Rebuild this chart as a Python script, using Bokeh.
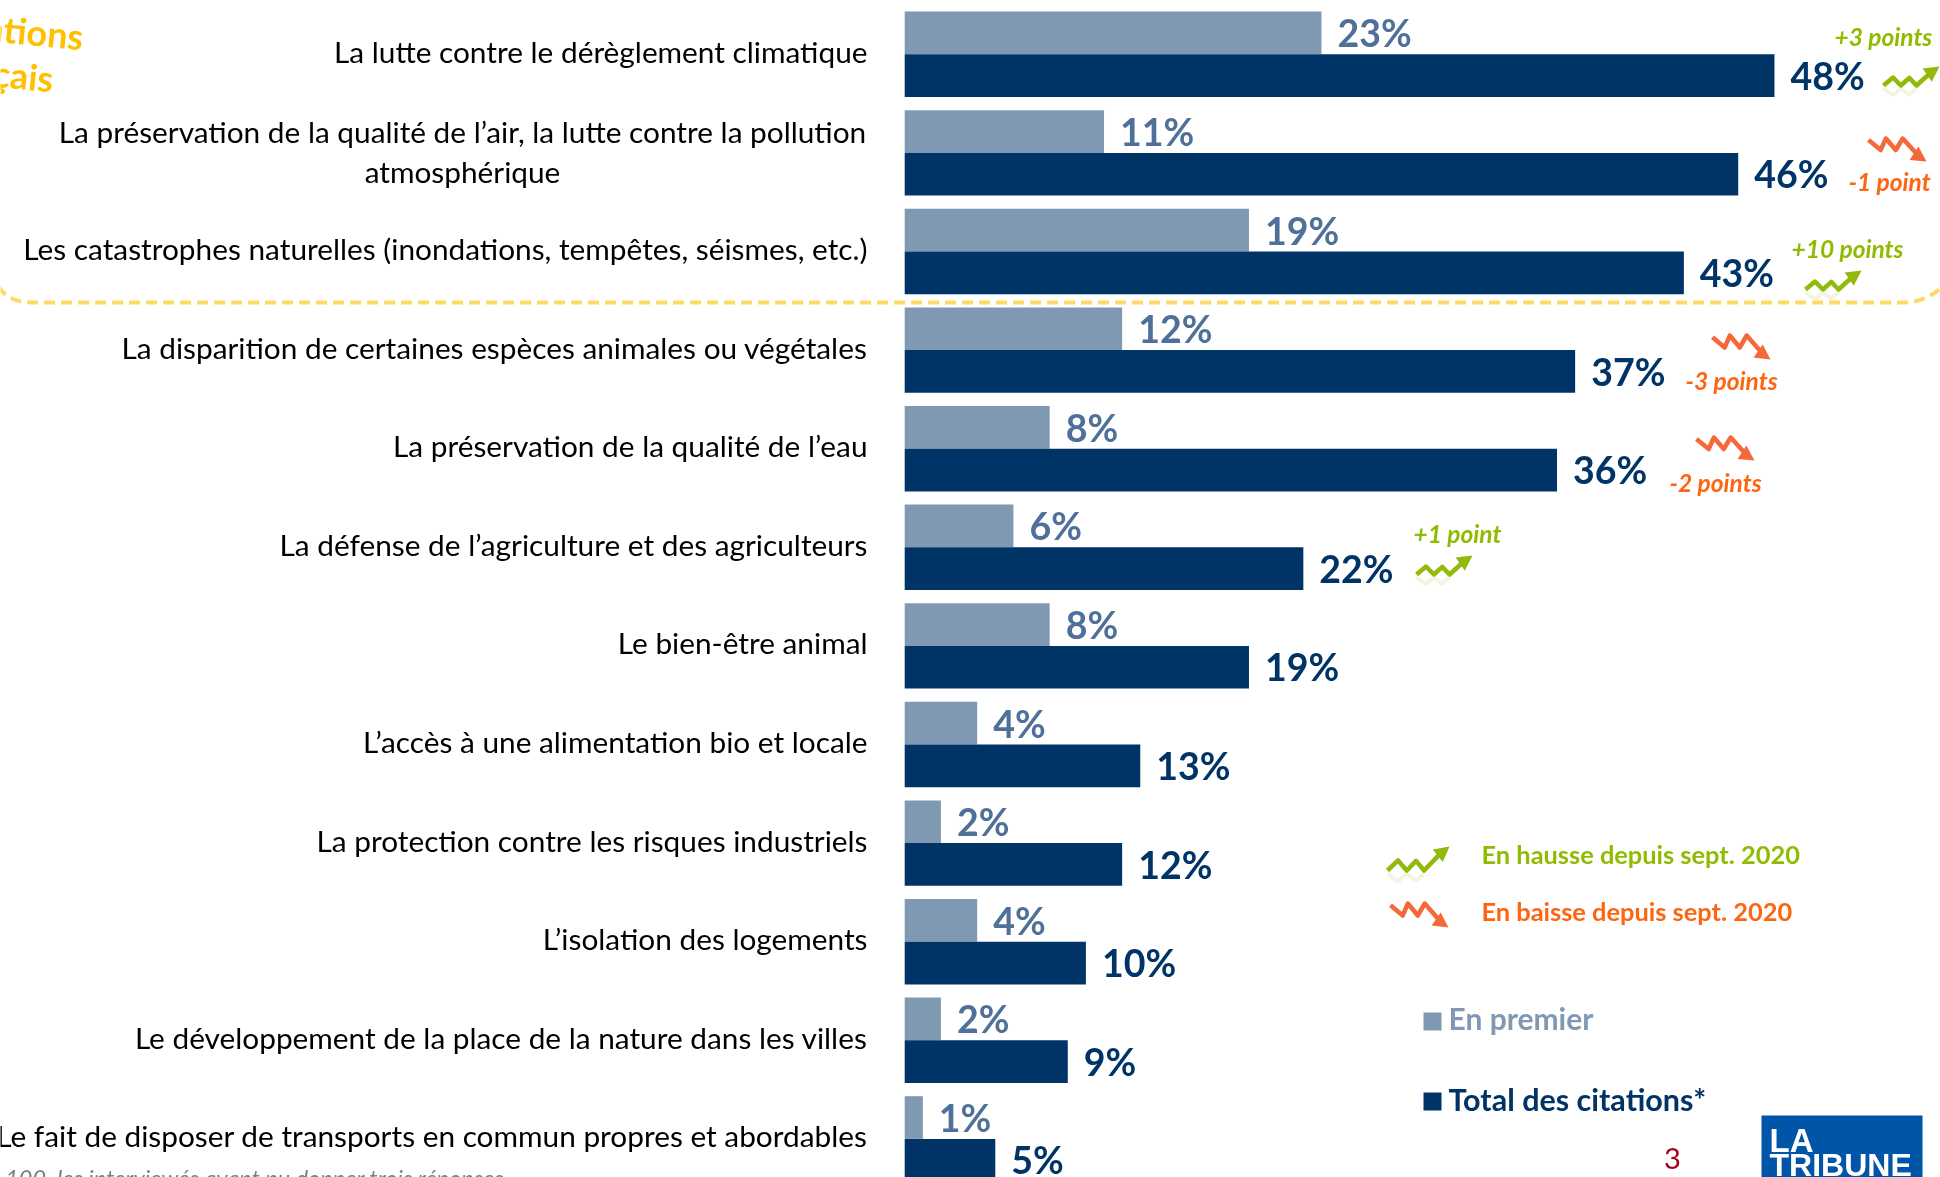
import numpy as np
from bokeh.plotting import figure
from bokeh.models import Range1d
from bokeh.core.properties import value
from bokeh.embed import file_html
from bokeh.resources import INLINE

categories = [
    "La lutte contre le dérèglement climatique",
    "La préservation de la qualité de l’air, la lutte contre la pollution\natmosphérique",
    "Les catastrophes naturelles (inondations, tempêtes, séismes, etc.)",
    "La disparition de certaines espèces animales ou végétales",
    "La préservation de la qualité de l’eau",
    "La défense de l’agriculture et des agriculteurs",
    "Le bien-être animal",
    "L’accès à une alimentation bio et locale",
    "La protection contre les risques industriels",
    "L’isolation des logements",
    "Le développement de la place de la nature dans les villes",
    "Le fait de disposer de transports en commun propres et abordables",
]
en_premier = [23, 11, 19, 12, 8, 6, 8, 4, 2, 4, 2, 1]
total_citations = [48, 46, 43, 37, 36, 22, 19, 13, 12, 10, 9, 5]
evolution_labels = ["+3 points", "-1 point", "+10 points", "-3 points", "-2 points", "+1 point"]

W, H = 1940, 1177
X0, PXU = 904.2, 18.12      # screen position of 0 %, pixels per %
Y0, PXR = 53.8, 98.6        # screen position of first row's middle, pixels per row
BAR = 42.7 / PXR

LIGHT, DARK = "#7F99B3", "#003366"
LIGHT_TXT = "#4E7099"
GREEN, ORANGE = "#8FBC00", "#FF6410"
ARROW_G, ARROW_O = "#93B90B", "#F4683A"
FONT = "Lato"

p = figure(width=W, height=H, output_backend="svg", toolbar_location=None,
           x_range=Range1d(-X0 / PXU, (W - X0) / PXU),
           y_range=Range1d((H - Y0) / PXR, -Y0 / PXR),
           min_border=0, outline_line_color=None, background_fill_color="white",
           border_fill_color="white")
p.styles = {"position": "fixed", "left": "0px", "top": "0px"}
p.axis.visible = False
p.grid.visible = False
p.extra_x_ranges = {"px": Range1d(0, W)}
p.extra_y_ranges = {"px": Range1d(H, 0)}
PX = dict(x_range_name="px", y_range_name="px")


def txt(x, y, s, size, color, align="left", style="normal", angle=0.0, font=FONT):
    p.text([x], [y], text=[s], text_font=value(font), text_font_size=f"{size}px",
           text_color=color, text_align=align, text_baseline="middle",
           text_font_style=style, angle=angle, **PX)


rows = np.arange(len(categories))
p.hbar(y=rows - BAR / 2, left=0, right=en_premier, height=BAR, color=LIGHT, line_color=None)
p.hbar(y=rows + BAR / 2, left=0, right=total_citations, height=BAR, color=DARK, line_color=None)

p.text(x=[v + 16 / PXU for v in en_premier], y=rows - 21.5 / PXR, text=[f"{v}%" for v in en_premier],
       text_font=value(FONT), text_font_size="37.5px", text_font_style="bold", text_color=LIGHT_TXT,
       text_baseline="middle")
p.text(x=[v + 16 / PXU for v in total_citations], y=rows + 21 / PXR,
       text=[f"{v}%" for v in total_citations],
       text_font=value(FONT), text_font_size="37.5px", text_font_style="bold", text_color=DARK,
       text_baseline="middle")

for i, c in enumerate(categories):
    yc = Y0 + PXR * i - 3
    if "\n" in c:
        a, b = c.split("\n")
        txt(462, yc - 18.5, a, 29.8, "#000000", "center")
        txt(462, yc + 21.5, b, 29.8, "#000000", "center")
    else:
        txt(867, yc, c, 29.8, "#000000", "right")

UP = np.array([(0, 0), (.17, .42), (.31, 0), (.46, .40), (.59, 0), (.84, .67), (1, 1)])
DOWN = np.array([(0, .93), (.21, .5), (.3, 1), (.47, .5), (.59, 1), (.88, .2), (1, 0)])


def arrow(x0, y0, x1, y1, up=True):
    col = ARROW_G if up else ARROW_O
    w, h = x1 - x0, abs(y1 - y0)
    if up:
        xs = x0 + UP[:, 0] * w
        ys = y0 - UP[:, 1] * h
        # soft reflection of the zigzag
        p.line(xs[:5], y0 + 3 + UP[:5, 1] * h * .8, line_color=col, line_width=4, line_alpha=.12, **PX)
    else:
        xs = x0 + DOWN[:, 0] * w
        ys = y0 + (1 - DOWN[:, 1]) * h
    p.line(xs[:-1], ys[:-1], line_color=col, line_width=4.5, line_join="round", **PX)
    tx, ty = xs[-1], ys[-1]
    bx, by = xs[-2], ys[-2]
    d = np.array([tx - bx, ty - by], dtype=float)
    d /= np.hypot(*d)
    n = np.array([-d[1], d[0]])
    s = 15
    base = np.array([tx, ty]) - d * s
    p.patch([tx, base[0] + n[0] * 8, base[0] - n[0] * 8], [ty, base[1] + n[1] * 8, base[1] - n[1] * 8],
            color=col, line_color=None, **PX)


ev_pos = [(1834, 36), (1848, 181), (1791, 248), (1685, 380), (1669, 482), (1413, 533)]
ev_arrows = [(1883, 85, 1939, 66), (1868, 138, 1926, 161), (1805, 289, 1861, 270),
             (1712, 335, 1770, 359), (1696, 437, 1754, 460), (1416, 574, 1472, 555)]
for s, (x, y), a in zip(evolution_labels, ev_pos, ev_arrows):
    up = s.startswith("+")
    txt(x, y, s, 24.5, GREEN if up else ORANGE, "left", "bold italic")
    arrow(*a, up=up)

arrow(1387, 870, 1449, 846, True)
arrow(1390, 903, 1448, 927, False)
txt(1481, 853, "En hausse depuis sept. 2020", 25.4, GREEN, style="bold")
txt(1481, 910, "En baisse depuis sept. 2020", 25.4, ORANGE, style="bold")

p.quad(left=[1423], right=[1441], top=[1012], bottom=[1030], color=LIGHT, line_color=None, **PX)
p.quad(left=[1423], right=[1441], top=[1092], bottom=[1110], color=DARK, line_color=None, **PX)
txt(1448, 1017, "En premier", 30, LIGHT, style="bold")
txt(1448, 1098, "Total des citations*", 30.5, DARK, style="bold")

txt(1672, 1158, "3", 29, "#A50021", "center")

# logo
p.quad(left=[1761], right=[1922], top=[1115], bottom=[1177], color="#0055A8", line_color=None, **PX)
txt(1769, 1140, "LA", 33, "#FFFFFF", style="bold", font="Liberation Sans")
txt(1769, 1164, "TRIBUNE", 32, "#FFFFFF", style="bold", font="Liberation Sans")

# dashed outline around the top three rows
t = np.linspace(0, 1, 12)
lx = (1 - t) ** 2 * -2 + 2 * t * (1 - t) * 8 + t ** 2 * 32
ly = (1 - t) ** 2 * 286 + 2 * t * (1 - t) * 302 + t ** 2 * 302
rx = (1 - t) ** 2 * 1903 + 2 * t * (1 - t) * 1925 + t ** 2 * 1942
ry = (1 - t) ** 2 * 302 + 2 * t * (1 - t) * 302 + t ** 2 * 286
p.line(np.r_[lx, rx], np.r_[ly, ry], line_color="#FFD966", line_width=4, line_dash="11 6", **PX)

# truncated title at the left edge
for x, y, s in [(55, -14, "des"), (83, 36, "préoccupations"), (53, 78, "Français")]:
    txt(x, y, s, 36, "#FFC000", "right", "bold", angle=-0.1)

txt(505, 1177, "* Total supérieur à 100, les interviewés ayant pu donner trois réponses", 23.5, "#7F7F7F",
    "right", "italic")

open("out.html", "w").write(file_html(p, INLINE))
